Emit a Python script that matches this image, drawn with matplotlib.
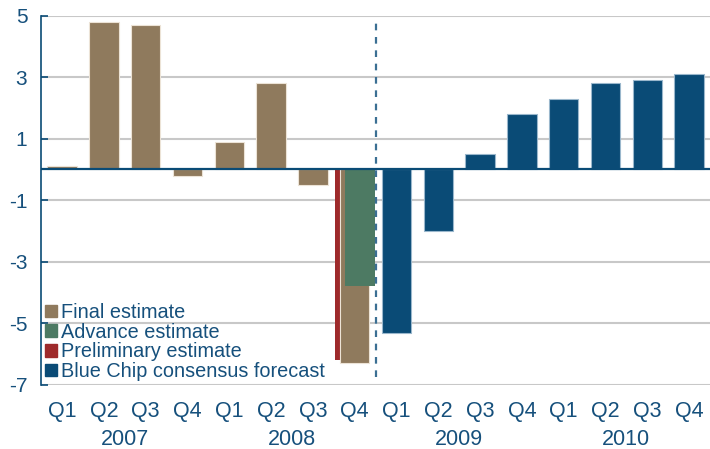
import numpy as np
import matplotlib.pyplot as plt
from matplotlib.patches import Patch

plt.rcParams['font.family'] = ['Liberation Sans', 'DejaVu Sans']
plt.rcParams['axes.unicode_minus'] = False

# 季度标签
quarters = ['Q1', 'Q2', 'Q3', 'Q4'] * 4
years = ['2007', '2008', '2009', '2010']

# 已公布的最终估计 (2007Q1 - 2008Q4)
final_est = [0.1, 4.8, 4.7, -0.2, 0.9, 2.8, -0.5, -6.3]
# 2008Q4 的初值和修正值
advance_est = -3.8
prelim_est = -6.2
# 蓝筹共识预测 (2009Q1 - 2010Q4)
forecast = [-5.3, -2.0, 0.5, 1.8, 2.3, 2.8, 2.9, 3.1]

c_final = '#8f7a5d'
c_adv = '#4d7a63'
c_prelim = '#9e2a2b'
c_blue = '#0a4b76'
c_text = '#16507c'

fig = plt.figure(figsize=(7.1, 4.49), dpi=100)
ax = fig.add_axes([0.058, 0.143, 0.942, 0.822])

x_hist = np.arange(8)
x_fc = np.arange(8, 16)
w = 0.7

ax.bar(x_hist, final_est, width=w, color=c_final,
       edgecolor='#ece3d6', linewidth=0.8, zorder=3)
# 2008Q4：初值在左侧窄条，修正值叠在最终值之上
ax.bar(7 - 0.395, prelim_est, width=0.13, color=c_prelim, zorder=2)
ax.bar(7 + 0.125, advance_est, width=0.73, color=c_adv, zorder=4)
ax.bar(x_fc, forecast, width=w, color=c_blue,
       edgecolor='#9ab7cc', linewidth=0.8, zorder=3)

# 预测分界线
ax.vlines(7.5, -6.75, 4.85, colors='#3b6f93', linestyles=(0, (3, 3)),
          linewidth=1.6, zorder=5)

ax.axhline(0, color=c_blue, linewidth=1.6, zorder=6)

ax.set_xlim(-0.5, 15.5)
ax.set_ylim(-7, 5)
ax.set_yticks(np.arange(-7, 6, 2))
ax.yaxis.grid(True, color='#c8c8c8', linewidth=1.5, zorder=0)
ax.set_axisbelow(True)

for s in ['top', 'right', 'bottom']:
    ax.spines[s].set_visible(False)
ax.spines['left'].set_color(c_blue)
ax.spines['left'].set_linewidth(1.2)

ax.tick_params(axis='y', direction='in', length=5, width=1.2, color=c_blue,
               labelcolor=c_text, labelsize=15, pad=10)
ax.set_xticks([])

trans = ax.get_xaxis_transform()
for i, q in enumerate(quarters):
    ax.text(i, -0.072, q, transform=trans, ha='center', va='center',
            fontsize=15.5, color=c_text)
for j, yr in enumerate(years):
    ax.text(j * 4 + 1.5, -0.148, yr, transform=trans, ha='center', va='center',
            fontsize=15.5, color=c_text)

handles = [Patch(color=c_final), Patch(color=c_adv),
           Patch(color=c_prelim), Patch(color=c_blue)]
labels = ['Final estimate', 'Advance estimate', 'Preliminary estimate',
          'Blue Chip consensus forecast']
leg = ax.legend(handles, labels, loc='lower left', bbox_to_anchor=(0.0, 0.0),
                frameon=False, fontsize=14.3, handlelength=0.6, handleheight=0.6,
                handletextpad=0.2, labelspacing=0.03, borderpad=0.1,
                borderaxespad=0.1)
for t in leg.get_texts():
    t.set_color(c_text)
leg.set_zorder(7)

fig.savefig('out.png', dpi=100)
